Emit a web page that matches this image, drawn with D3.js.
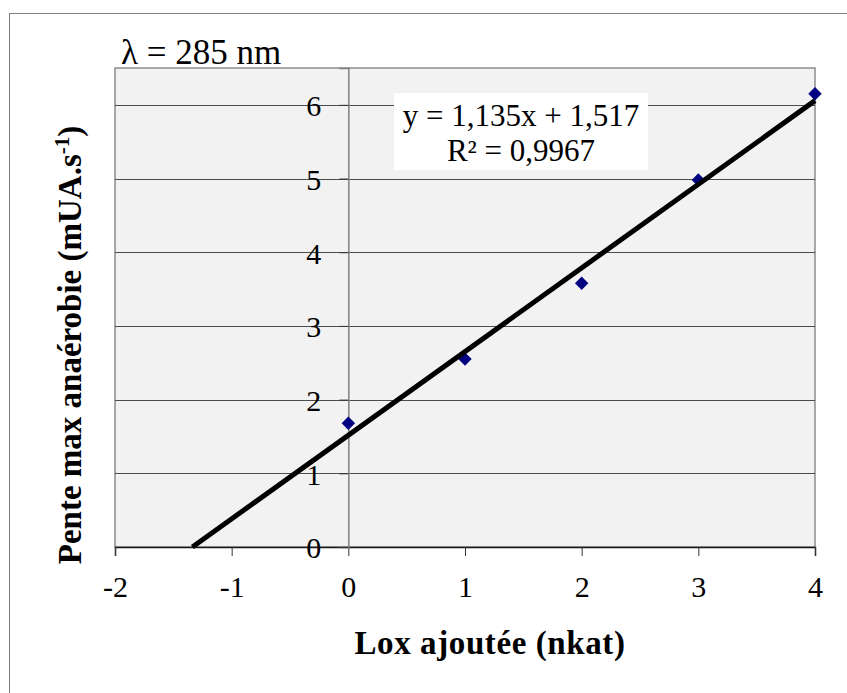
<!DOCTYPE html>
<html>
<head>
<meta charset="utf-8">
<script src="https://cdn.jsdelivr.net/npm/d3@7"></script>
<style>
  html, body { margin: 0; padding: 0; background: #fff; }
  svg { display: block; }
  text { font-family: "Liberation Serif", "Times New Roman", serif; fill: #000; }
</style>
</head>
<body>
<svg id="chart" width="847" height="693"></svg>
<script>
// ---- data ----
const xValues = [0, 1, 2, 3, 4];
const yValues = [1.68, 2.55, 3.58, 4.98, 6.15];
const xTicks = [-2, -1, 0, 1, 2, 3, 4];
const yTicks = [0, 1, 2, 3, 4, 5, 6];
const trendSlope = 1.135;
const trendIntercept = 1.517;
const equationLines = ["y = 1,135x + 1,517", "R² = 0,9967"];
const titleText = "λ = 285 nm";
const xTitle = "Lox ajoutée (nkat)";
const yTitle = "Pente max anaérobie (mUA.s";

// ---- layout ----
const svg = d3.select("#chart");
const plot = { left: 115, right: 815, top: 68, bottom: 547 };
const x = d3.scaleLinear().domain([-2, 4]).range([plot.left, plot.right]);
const y = d3.scaleLinear().domain([0, 6.5]).range([plot.bottom, plot.top]);

// outer chart border (only top/left visible)
svg.append("rect")
  .attr("x", 9.5).attr("y", 13.5).attr("width", 900).attr("height", 800)
  .attr("fill", "#fff").attr("stroke", "#7f7f7f").attr("stroke-width", 1);

// plot area
svg.append("rect")
  .attr("x", plot.left).attr("y", plot.top)
  .attr("width", plot.right - plot.left).attr("height", plot.bottom - plot.top)
  .attr("fill", "#f2f2f2").attr("stroke", "#8c8c8c").attr("stroke-width", 1.5);

// gridlines
svg.append("g").selectAll("line")
  .data(yTicks.filter(d => d > 0))
  .join("line")
  .attr("x1", plot.left).attr("x2", plot.right)
  .attr("y1", d => Math.round(y(d)) + 0.5).attr("y2", d => Math.round(y(d)) + 0.5)
  .attr("stroke", "#4d4d4d").attr("stroke-width", 1);

// x axis
const xAxis = svg.append("g")
  .attr("transform", `translate(0,${plot.bottom})`)
  .call(d3.axisBottom(x).tickValues(xTicks).tickSize(9).tickPadding(20).tickFormat(d3.format("d")));
xAxis.select(".domain").attr("stroke", "#1a1a1a").attr("stroke-width", 1.5);
xAxis.selectAll(".tick line").attr("stroke", "#333");
xAxis.selectAll("text").attr("font-size", 30).attr("font-family", "Liberation Serif").text(d => d < 0 ? "-" + Math.abs(d) : d);

// y axis at x = 0
const yAxis = svg.append("g")
  .attr("transform", `translate(${x(0)},0)`)
  .call(d3.axisLeft(y).tickValues(yTicks).tickSize(9).tickPadding(18).tickFormat(d3.format("d")));
yAxis.select(".domain").attr("stroke", "#808080").attr("stroke-width", 1.5);
yAxis.selectAll(".tick line").attr("stroke", "#333");
yAxis.selectAll("text").attr("font-size", 30).attr("font-family", "Liberation Serif").attr("dy", "0.36em");

// markers
const diamond = d3.symbol().type(d3.symbolSquare).size(90);
svg.append("g").selectAll("path")
  .data(xValues.map((v, i) => [v, yValues[i]]))
  .join("path")
  .attr("d", diamond)
  .attr("transform", d => `translate(${x(d[0])},${y(d[1])}) rotate(45)`)
  .attr("fill", "#000080");

// trendline (from y = 0 to x = 4)
const x0 = -trendIntercept / trendSlope;
const xEnd = d3.max(xValues);
svg.append("line")
  .attr("x1", x(x0)).attr("y1", y(0))
  .attr("x2", x(xEnd)).attr("y2", y(trendSlope * xEnd + trendIntercept))
  .attr("stroke", "#000").attr("stroke-width", 5);

// equation label
svg.append("rect")
  .attr("x", 394).attr("y", 93).attr("width", 254).attr("height", 77)
  .attr("fill", "#fff");
svg.append("text")
  .attr("x", 521).attr("y", 126)
  .attr("text-anchor", "middle").attr("font-size", 31)
  .text(equationLines[0]);
svg.append("text")
  .attr("x", 521).attr("y", 161)
  .attr("text-anchor", "middle").attr("font-size", 31)
  .text(equationLines[1]);

// title
svg.append("text")
  .attr("x", 121).attr("y", 64)
  .attr("font-size", 35)
  .text(titleText);

// x title
svg.append("text")
  .attr("x", 490).attr("y", 654)
  .attr("text-anchor", "middle").attr("font-size", 33).attr("font-weight", "bold")
  .attr("letter-spacing", 0.6)
  .text(xTitle);

// y title
const yt = svg.append("text")
  .attr("transform", "translate(81,345) rotate(-90)")
  .attr("text-anchor", "middle").attr("font-size", 33).attr("font-weight", "bold");
yt.append("tspan").text(yTitle);
yt.append("tspan").attr("font-size", 21).attr("dy", -12).text("-1");
yt.append("tspan").attr("dy", 12).text(")");
</script>
</body>
</html>
